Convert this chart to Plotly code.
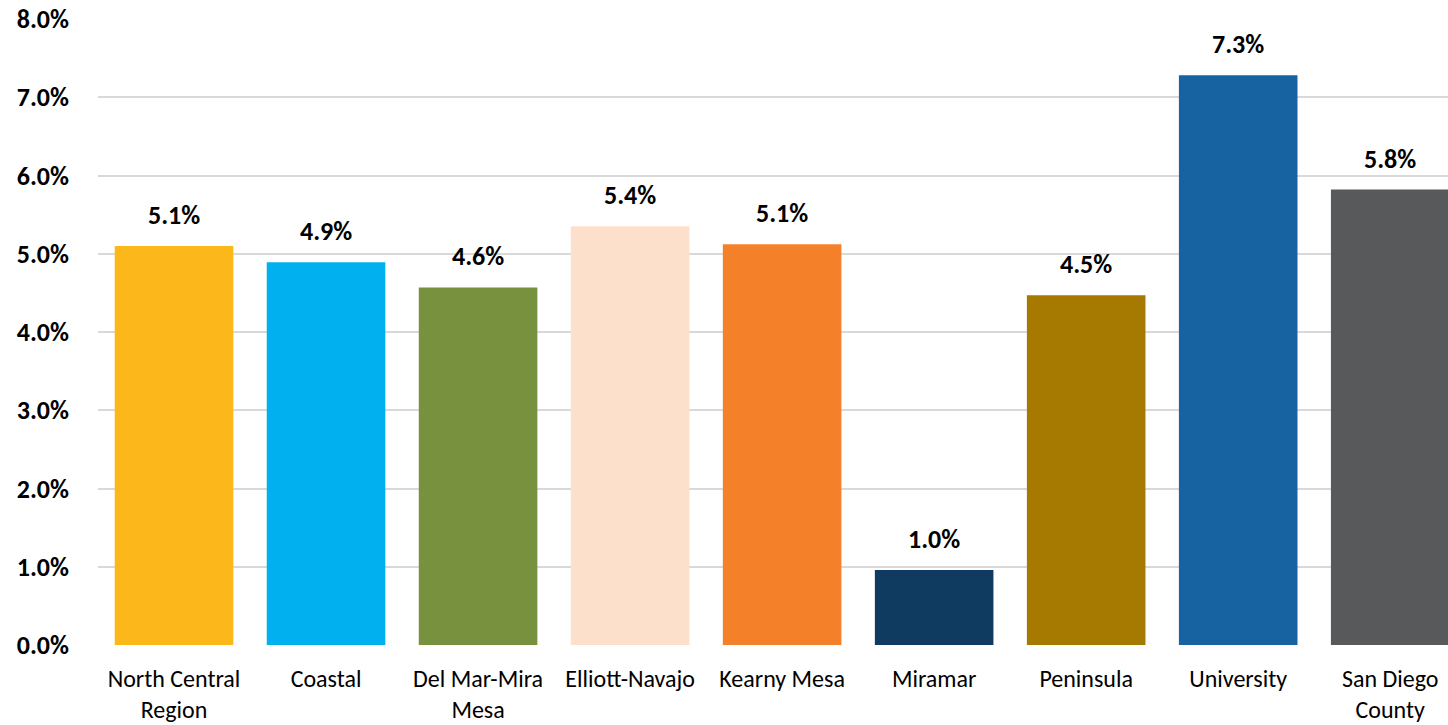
import plotly.graph_objects as go

categories = ["North Central<br>Region", "Coastal", "Del Mar-Mira<br>Mesa", "Elliott-Navajo",
              "Kearny Mesa", "Miramar", "Peninsula", "University", "San Diego<br>County"]
values = [5.1, 4.89, 4.57, 5.35, 5.12, 0.96, 4.47, 7.28, 5.82]
labels = ["5.1%", "4.9%", "4.6%", "5.4%", "5.1%", "1.0%", "4.5%", "7.3%", "5.8%"]
colors = ["#FCB81B", "#00B0EF", "#77913F", "#FCE0CC", "#F4802A",
          "#0F3B61", "#A67900", "#1762A0", "#58595B"]
yticks = [0, 1, 2, 3, 4, 5, 6, 7, 8]
ytick_text = [f"{v:.1f}%" for v in yticks]

FONT = "Carlito, Lato, sans-serif"

fig = go.Figure(go.Bar(
    x=list(range(len(categories))), y=values,
    marker=dict(color=colors, line=dict(width=0)),
    width=0.78,
    hoverinfo="skip",
))

for i, (v, t) in enumerate(zip(values, labels)):
    fig.add_annotation(x=i, y=v, text=f"<b>{t}</b>", showarrow=False,
                       yanchor="bottom", yshift=13,
                       font=dict(family=FONT, size=26, color="#000000"))

fig.update_layout(
    width=1448, height=725,
    margin=dict(l=98, r=0, t=19, b=80),
    paper_bgcolor="white", plot_bgcolor="white",
    showlegend=False,
    font=dict(family=FONT, color="#000000"),
    xaxis=dict(
        tickmode="array", tickvals=list(range(len(categories))), ticktext=categories,
        range=[-0.5, 8.38], showgrid=False, zeroline=False, showline=False,
        ticks="", tickfont=dict(family=FONT, size=24, color="#000000"),
        ticklabelstandoff=17,
    ),
    yaxis=dict(
        range=[0, 8], tickmode="array", tickvals=yticks, ticktext=[f"<b>{t}</b>" for t in ytick_text],
        showgrid=True, gridcolor="#D9D9D9", gridwidth=2, zeroline=False, showline=False,
        ticks="", tickfont=dict(family=FONT, size=26, color="#000000"),
        ticklabelstandoff=28,
    ),
)

fig.write_html("out.html", config={"displayModeBar": False},
               post_script="document.body.style.margin='0';document.body.style.overflow='hidden';")
